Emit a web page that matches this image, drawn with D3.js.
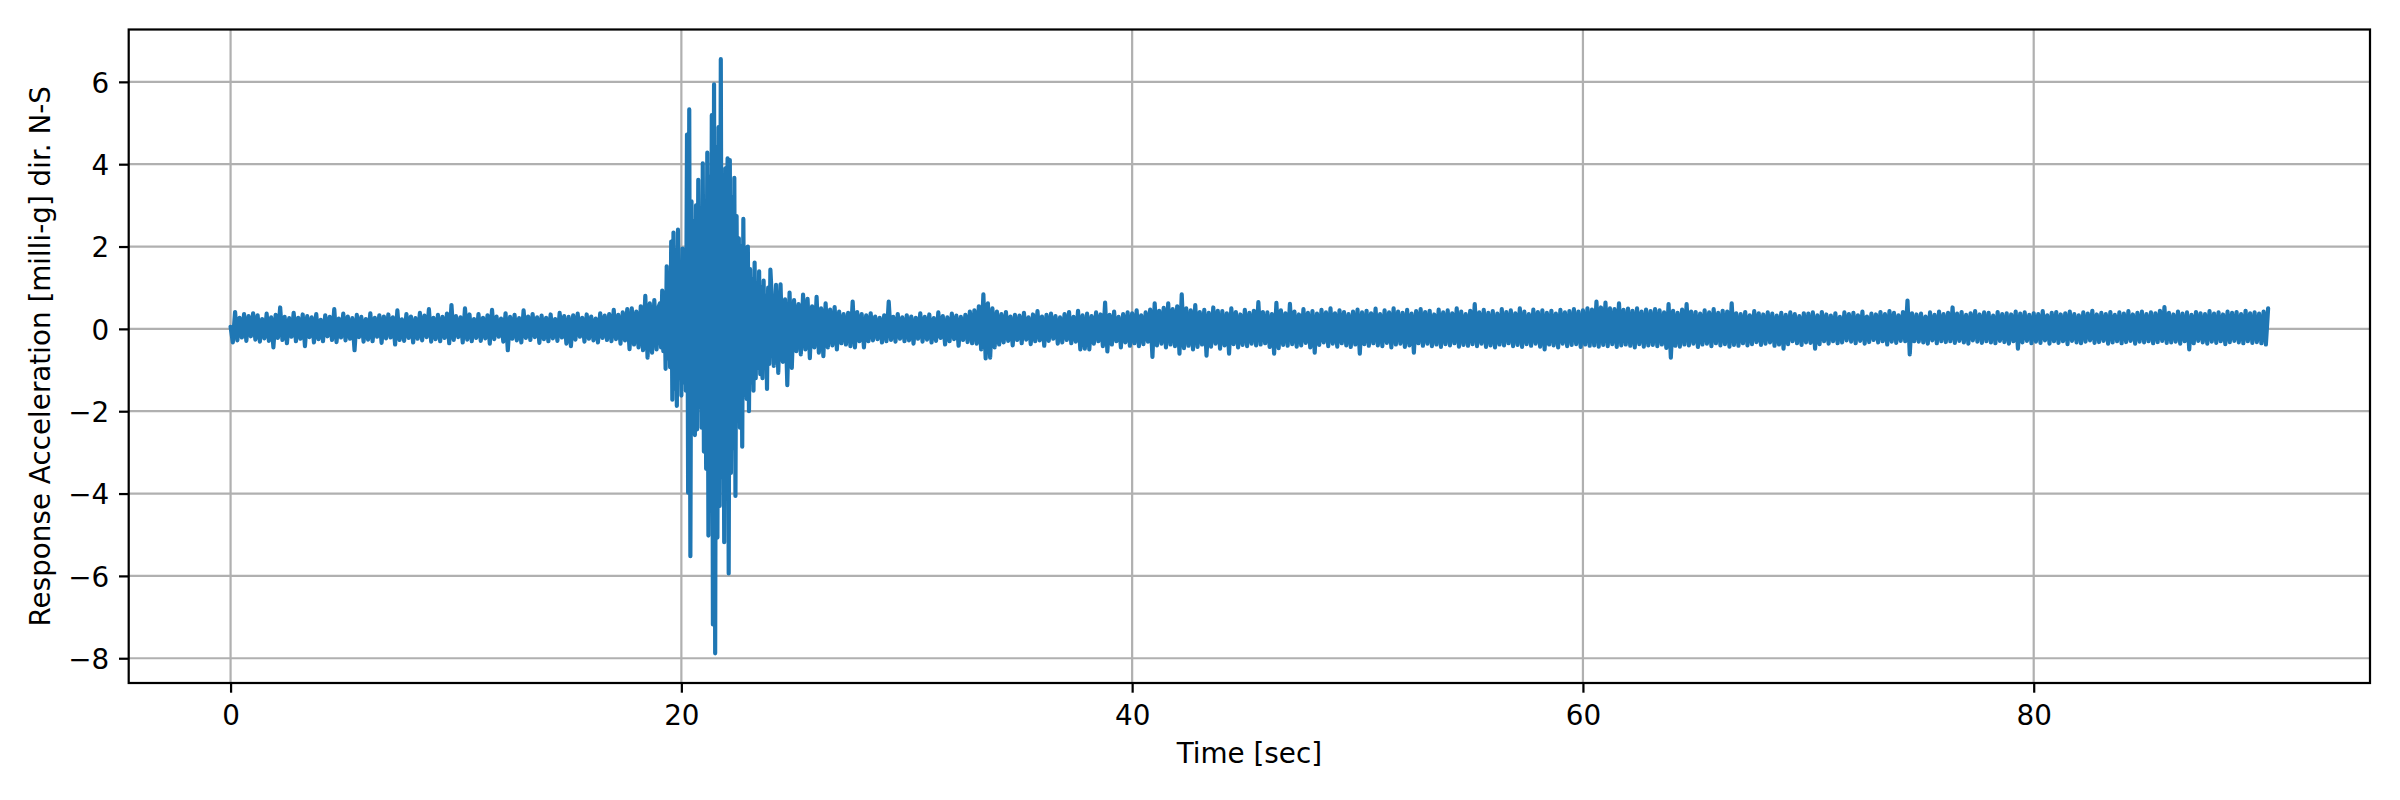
<!DOCTYPE html>
<html><head><meta charset="utf-8">
<script src="https://cdn.jsdelivr.net/npm/d3@7"></script>
<style>body{margin:0;background:#fff}svg{display:block}text{font-family:"DejaVu Sans",sans-serif}</style>
</head><body><svg id="chart" width="2400" height="800"></svg>
<script>
const xTickValues = [0, 20, 40, 60, 80];
const yTickValues = [-8, -6, -4, -2, 0, 2, 4, 6];
const xLabel = "Time [sec]";
const yLabel = "Response Acceleration [milli-g] dir. N-S";

// 0.0 – 18.9 s, every 0.1 s
const earlyStart = 0, earlyStep = 0.1;
const accelEarly = [
 0.05,-0.33,0.41,-0.28,0.27,-0.21,0.36,-0.29,0.31,-0.18,
 0.38,-0.26,0.33,-0.31,0.24,-0.23,0.37,-0.29,0.28,-0.45,
 0.34,-0.22,0.52,-0.27,0.29,-0.35,0.26,-0.19,0.39,-0.3,
 0.27,-0.24,0.35,-0.42,0.31,-0.2,0.28,-0.33,0.36,-0.25,
 0.22,-0.3,0.33,-0.18,0.29,-0.27,0.48,-0.32,0.25,-0.21,
 0.37,-0.28,0.3,-0.24,0.26,-0.52,0.34,-0.2,0.29,-0.31,
 0.24,-0.26,0.38,-0.3,0.27,-0.19,0.33,-0.34,0.3,-0.23,
 0.35,-0.21,0.28,-0.38,0.45,-0.27,0.23,-0.29,0.36,-0.22,
 0.3,-0.33,0.26,-0.24,0.39,-0.28,0.32,-0.2,0.48,-0.31,
 0.27,-0.25,0.34,-0.3,0.29,-0.22,0.37,-0.35,0.58,-0.27,
 0.31,-0.2,0.28,-0.33,0.5,-0.26,0.35,-0.3,0.24,-0.22,
 0.36,-0.29,0.27,-0.23,0.33,-0.36,0.46,-0.25,0.3,-0.19,
 0.25,-0.31,0.38,-0.52,0.29,-0.24,0.34,-0.28,0.26,-0.33,
 0.45,-0.22,0.3,-0.27,0.36,-0.2,0.28,-0.34,0.32,-0.25,
 0.27,-0.3,0.35,-0.23,0.24,-0.29,0.39,-0.21,0.31,-0.36,
 0.29,-0.42,0.33,-0.26,0.37,-0.19,0.27,-0.31,0.35,-0.24,
 0.3,-0.28,0.25,-0.33,0.38,-0.22,0.32,-0.27,0.36,-0.3,
 0.46,-0.25,0.34,-0.36,0.4,-0.28,0.48,-0.49,0.5,-0.38,
 0.42,-0.45,0.55,-0.52,0.8,-0.7,0.62,-0.58,0.7,-0.5
];

// 19.00 – 23.95 s (strong motion), every 0.05 s
const burstStart = 19, burstStep = 0.05;
const accelBurst = [
 0.55,0.62,-0.45,0.93,-0.54,0.88,-0.97,1.52,-0.72,1.35,
 -0.93,2.12,-1.72,2.34,-1.45,1.9,-1.87,2.41,-1.2,1.55,
 -1.62,1.95,-1.3,1.7,-1.5,4.72,-3.98,5.33,-5.52,3.1,
 -2.2,2.6,-2.58,3.0,-2.44,3.62,-1.9,2.8,-2.4,4.02,
 -2.98,3.1,-3.4,4.28,-5.02,3.7,-4.1,5.19,-7.18,5.94,
 -7.88,4.4,-5.07,4.9,-4.3,6.55,-3.6,3.4,-5.18,3.9,
 -3.2,4.14,-5.94,4.1,-3.5,3.2,-2.9,3.67,-4.06,2.74,
 -1.76,2.2,-2.4,2.0,-2.86,2.67,-1.6,1.97,-1.7,2.0,
 -2.0,1.45,-1.3,1.2,-1.5,1.61,-1.2,1.1,-0.95,1.4,
 -1.1,1.0,-1.2,1.17,-0.9,0.8,-1.46,1.0,-0.85,1.44
];

// 24.0 – 90.4 s, every 0.1 s
const lateStart = 24, lateStep = 0.1;
const accelLate = [
 0.9,-0.9,1.07,-1.07,1.08,-0.8,0.72,-1.37,0.88,-0.95,
 0.7,-0.54,0.6,-0.62,0.83,-0.5,0.73,-0.71,0.55,-0.45,
 0.78,-0.58,0.5,-0.66,0.62,-0.45,0.47,-0.4,0.53,-0.5,
 0.42,-0.35,0.36,-0.38,0.39,-0.42,0.66,-0.45,0.41,-0.3,
 0.36,-0.45,0.33,-0.3,0.38,-0.28,0.3,-0.25,0.27,-0.33,
 0.33,-0.3,0.66,-0.27,0.29,-0.31,0.36,-0.24,0.28,-0.3,
 0.33,-0.28,0.3,-0.36,0.27,-0.24,0.38,-0.31,0.29,-0.26,
 0.35,-0.33,0.26,-0.29,0.4,-0.22,0.31,-0.38,0.28,-0.3,
 0.37,-0.25,0.32,-0.41,0.29,-0.27,0.34,-0.32,0.42,-0.35,
 0.45,-0.36,0.55,-0.5,0.84,-0.72,0.62,-0.7,0.5,-0.45,
 0.42,-0.38,0.36,-0.33,0.41,-0.29,0.3,-0.4,0.34,-0.27,
 0.32,-0.35,0.39,-0.26,0.28,-0.37,0.35,-0.3,0.43,-0.28,
 0.3,-0.41,0.34,-0.29,0.37,-0.24,0.31,-0.36,0.28,-0.33,
 0.36,-0.27,0.41,-0.35,0.29,-0.31,0.44,-0.5,0.33,-0.48,
 0.37,-0.5,0.31,-0.36,0.4,-0.3,0.35,-0.42,0.64,-0.55,
 0.34,-0.38,0.42,-0.3,0.29,-0.45,0.36,-0.33,0.4,-0.41,
 0.38,-0.35,0.45,-0.42,0.33,-0.37,0.4,-0.31,0.47,-0.68,
 0.62,-0.4,0.44,-0.36,0.51,-0.45,0.62,-0.38,0.48,-0.42,
 0.55,-0.6,0.84,-0.47,0.5,-0.41,0.45,-0.5,0.58,-0.44,
 0.41,-0.38,0.46,-0.65,0.39,-0.43,0.52,-0.36,0.44,-0.48,
 0.43,-0.4,0.38,-0.6,0.5,-0.37,0.41,-0.45,0.35,-0.39,
 0.46,-0.42,0.39,-0.36,0.44,-0.4,0.65,-0.38,0.41,-0.35,
 0.4,-0.44,0.36,-0.6,0.63,-0.47,0.45,-0.39,0.38,-0.41,
 0.61,-0.37,0.42,-0.43,0.35,-0.4,0.48,-0.34,0.39,-0.45,
 0.43,-0.58,0.37,-0.39,0.46,-0.33,0.4,-0.42,0.5,-0.36,
 0.38,-0.43,0.45,-0.35,0.41,-0.4,0.36,-0.44,0.42,-0.38,
 0.47,-0.6,0.4,-0.37,0.44,-0.41,0.38,-0.35,0.49,-0.4,
 0.36,-0.42,0.45,-0.34,0.4,-0.45,0.5,-0.38,0.42,-0.36,
 0.39,-0.44,0.46,-0.4,0.37,-0.58,0.43,-0.35,0.48,-0.41,
 0.41,-0.36,0.44,-0.42,0.35,-0.38,0.47,-0.44,0.4,-0.37,
 0.45,-0.4,0.38,-0.35,0.5,-0.43,0.42,-0.39,0.36,-0.41,
 0.44,-0.37,0.6,-0.42,0.4,-0.36,0.46,-0.44,0.39,-0.4,
 0.43,-0.45,0.37,-0.38,0.48,-0.4,0.41,-0.35,0.45,-0.42,
 0.38,-0.39,0.5,-0.44,0.42,-0.37,0.36,-0.41,0.47,-0.36,
 0.41,-0.43,0.45,-0.5,0.39,-0.38,0.44,-0.4,0.37,-0.45,
 0.46,-0.36,0.4,-0.42,0.43,-0.39,0.48,-0.37,0.42,-0.44,
 0.45,-0.38,0.5,-0.41,0.47,-0.4,0.66,-0.43,0.52,-0.39,
 0.64,-0.42,0.5,-0.37,0.48,-0.44,0.62,-0.4,0.46,-0.38,
 0.49,-0.41,0.44,-0.45,0.5,-0.37,0.42,-0.43,0.47,-0.4,
 0.43,-0.39,0.48,-0.42,0.45,-0.38,0.4,-0.46,0.6,-0.7,
 0.44,-0.41,0.39,-0.43,0.47,-0.38,0.6,-0.4,0.42,-0.36,
 0.41,-0.44,0.37,-0.38,0.45,-0.36,0.4,-0.42,0.48,-0.35,
 0.39,-0.4,0.44,-0.37,0.42,-0.43,0.62,-0.39,0.38,-0.41,
 0.36,-0.35,0.41,-0.4,0.33,-0.37,0.43,-0.32,0.38,-0.39,
 0.35,-0.36,0.4,-0.33,0.37,-0.41,0.32,-0.38,0.39,-0.48,
 0.34,-0.37,0.4,-0.3,0.36,-0.35,0.31,-0.39,0.38,-0.33,
 0.37,-0.34,0.4,-0.48,0.33,-0.37,0.41,-0.3,0.35,-0.36,
 0.32,-0.3,0.38,-0.35,0.29,-0.33,0.4,-0.28,0.36,-0.31,
 0.39,-0.35,0.33,-0.29,0.42,-0.36,0.3,-0.32,0.37,-0.27,
 0.35,-0.33,0.41,-0.3,0.36,-0.38,0.43,-0.31,0.39,-0.34,
 0.33,-0.29,0.41,-0.3,0.69,-0.62,0.38,-0.3,0.35,-0.31,
 0.37,-0.33,0.3,-0.36,0.4,-0.28,0.34,-0.35,0.42,-0.3,
 0.36,-0.32,0.39,-0.3,0.52,-0.34,0.37,-0.29,0.41,-0.33,
 0.34,-0.36,0.38,-0.28,0.43,-0.31,0.35,-0.34,0.4,-0.3,
 0.39,-0.33,0.32,-0.35,0.41,-0.29,0.36,-0.32,0.38,-0.36,
 0.35,-0.3,0.42,-0.48,0.37,-0.33,0.4,-0.29,0.34,-0.35,
 0.38,-0.31,0.36,-0.34,0.43,-0.28,0.33,-0.36,0.39,-0.3,
 0.41,-0.34,0.35,-0.3,0.38,-0.37,0.42,-0.29,0.36,-0.33,
 0.33,-0.35,0.4,-0.31,0.37,-0.28,0.44,-0.34,0.35,-0.32,
 0.39,-0.29,0.36,-0.36,0.41,-0.33,0.34,-0.3,0.4,-0.35,
 0.37,-0.32,0.43,-0.29,0.35,-0.36,0.39,-0.31,0.42,-0.33,
 0.36,-0.3,0.4,-0.35,0.38,-0.32,0.44,-0.29,0.53,-0.34,
 0.39,-0.33,0.35,-0.31,0.42,-0.36,0.37,-0.3,0.4,-0.5,
 0.34,-0.35,0.41,-0.29,0.38,-0.33,0.36,-0.36,0.43,-0.31,
 0.37,-0.34,0.4,-0.3,0.35,-0.37,0.42,-0.32,0.39,-0.29,
 0.41,-0.33,0.36,-0.35,0.44,-0.3,0.38,-0.34,0.4,-0.32,
 0.37,-0.35,0.42,-0.38,0.5
];

const series = [].concat(
  accelEarly.map((v, i) => ({ t: earlyStart + i * earlyStep, v })),
  accelBurst.map((v, i) => ({ t: burstStart + i * burstStep, v })),
  accelLate.map((v, i) => ({ t: lateStart + i * lateStep, v }))
);

const W = 2400, H = 800;
const plot = { left: 128.7, right: 2370, top: 29.5, bottom: 683 };
const fontPx = 27.8, lw = 2.22, tickLen = 9.7;

const svg = d3.select('#chart');
svg.append('rect').attr('width', W).attr('height', H).attr('fill', '#fff');

const padExt = e => { const s = e[1] - e[0]; return [e[0] - 0.05 * s, e[1] + 0.05 * s]; };
const x = d3.scaleLinear().domain(padExt(d3.extent(series, d => d.t))).range([plot.left, plot.right]);
const y = d3.scaleLinear().domain(padExt(d3.extent(series, d => d.v))).range([plot.bottom, plot.top]);

// grid
const grid = svg.append('g').attr('stroke', '#b0b0b0').attr('stroke-width', lw);
grid.selectAll('line.vx').data(xTickValues).join('line').attr('class', 'vx')
  .attr('x1', d => x(d)).attr('x2', d => x(d)).attr('y1', plot.top).attr('y2', plot.bottom);
grid.selectAll('line.hy').data(yTickValues).join('line').attr('class', 'hy')
  .attr('y1', d => y(d)).attr('y2', d => y(d)).attr('x1', plot.left).attr('x2', plot.right);

// signal
const line = d3.line().x(d => x(d.t)).y(d => y(d.v));
svg.append('path').datum(series).attr('d', line)
  .attr('fill', 'none').attr('stroke', '#1f77b4').attr('stroke-width', 4.17)
  .attr('stroke-linejoin', 'round').attr('stroke-linecap', 'round');

// axes
const fmt = d3.format('d');
const xAxis = svg.append('g').attr('transform', `translate(0,${plot.bottom})`)
  .call(d3.axisBottom(x).tickValues(xTickValues).tickFormat(fmt).tickSize(tickLen).tickSizeOuter(0));
xAxis.select('.domain').remove();
xAxis.selectAll('.tick line').attr('stroke', '#000').attr('stroke-width', lw);
xAxis.selectAll('.tick text').attr('y', 42).attr('dy', null)
  .attr('font-size', fontPx).attr('fill', '#000').attr('font-family', 'DejaVu Sans');

const yAxis = svg.append('g').attr('transform', `translate(${plot.left},0)`)
  .call(d3.axisLeft(y).tickValues(yTickValues).tickFormat(fmt).tickSize(tickLen).tickSizeOuter(0).tickPadding(9.7));
yAxis.select('.domain').remove();
yAxis.selectAll('.tick line').attr('stroke', '#000').attr('stroke-width', lw);
yAxis.selectAll('.tick text').attr('dy', '0.365em')
  .attr('font-size', fontPx).attr('fill', '#000').attr('font-family', 'DejaVu Sans');

// spines
svg.append('rect').attr('x', plot.left).attr('y', plot.top)
  .attr('width', plot.right - plot.left).attr('height', plot.bottom - plot.top)
  .attr('fill', 'none').attr('stroke', '#000').attr('stroke-width', lw);

// labels
svg.append('text').attr('x', (plot.left + plot.right) / 2).attr('y', 763)
  .attr('text-anchor', 'middle').attr('font-size', fontPx).attr('fill', '#000').text(xLabel);
svg.append('text').attr('transform', `translate(50,${(plot.top + plot.bottom) / 2}) rotate(-90)`)
  .attr('text-anchor', 'middle').attr('font-size', fontPx).attr('fill', '#000').text(yLabel);
</script>
</body></html>
